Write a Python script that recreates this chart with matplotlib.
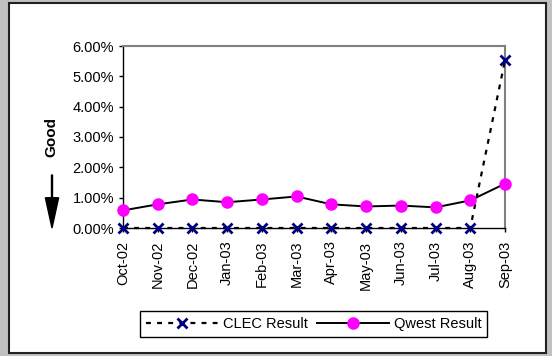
import matplotlib
matplotlib.use("Agg")
import matplotlib.pyplot as plt
from matplotlib.patches import Rectangle, FancyArrow
from matplotlib.ticker import PercentFormatter

months = ["Oct-02", "Nov-02", "Dec-02", "Jan-03", "Feb-03", "Mar-03",
          "Apr-03", "May-03", "Jun-03", "Jul-03", "Aug-03", "Sep-03"]
clec = [0, 0, 0, 0, 0, 0, 0, 0, 0, 0, 0, 5.53]
qwest = [0.58, 0.78, 0.94, 0.85, 0.94, 1.04, 0.78, 0.71, 0.74, 0.68, 0.91, 1.46]

plt.rcParams['font.family'] = ['Liberation Sans', 'DejaVu Sans']
plt.rcParams['font.size'] = 10

fig = plt.figure(figsize=(5.52, 3.56), dpi=100, facecolor='#c0c0c0')
fig.patches.append(Rectangle((9/552, 1 - 353/356), 537/552, 350/356,
                             transform=fig.transFigure, facecolor='white',
                             edgecolor='#202020', linewidth=1.5, zorder=-5))

ax = fig.add_axes([123/552, 1 - 228/356, 382/552, 182/356])
ax.set_facecolor('none')
x = range(len(months))
ax.plot(x, clec, color='black', linestyle=(0, (2.2, 2.8)), linewidth=1.6,
        marker='x', markersize=7.5, markeredgewidth=2, markeredgecolor='#000080',
        label='CLEC Result', zorder=3, clip_on=False)
ax.plot(x, qwest, color='black', linewidth=1.4, marker='o', markersize=8,
        markerfacecolor='#ff00ff', markeredgecolor='#ff00ff',
        label='Qwest Result', zorder=4, clip_on=False)

ax.set_xlim(0, len(months) - 1)
ax.set_ylim(0, 6)
ax.set_yticks([0, 1, 2, 3, 4, 5, 6])
ax.yaxis.set_major_formatter(PercentFormatter(decimals=2))
ax.set_xticks(list(x))
ax.set_xticklabels(months, rotation=90)
ax.tick_params(axis='both', direction='out', length=3, width=1, labelsize=10.5,
               colors='black')
ax.tick_params(axis='x', pad=6)
for s in ['top', 'right']:
    ax.spines[s].set_color('#808080')
    ax.spines[s].set_linewidth(1.5)
for s in ['left', 'bottom']:
    ax.spines[s].set_color('black')
    ax.spines[s].set_linewidth(1)

fig.text(51/552, 1 - 137/356, 'Good', rotation=90, fontweight='bold',
         ha='center', va='center', fontsize=11)
fig.patches.append(FancyArrow(
    52/552, 1 - 175/356, 0, -(53/356), width=0.0018, head_width=0.024,
    head_length=0.085, length_includes_head=True, transform=fig.transFigure,
    color='black'))

leg = fig.legend(loc='center', bbox_to_anchor=(313.5/552, 1 - 324/356), ncol=2,
                 frameon=True, fancybox=False, edgecolor='black', framealpha=1,
                 handlelength=5.0, columnspacing=0.6, handletextpad=0.3,
                 borderpad=0.4, fontsize=10.5)
leg.get_frame().set_linewidth(1)

fig.savefig('out.png', dpi=100, facecolor=fig.get_facecolor())
